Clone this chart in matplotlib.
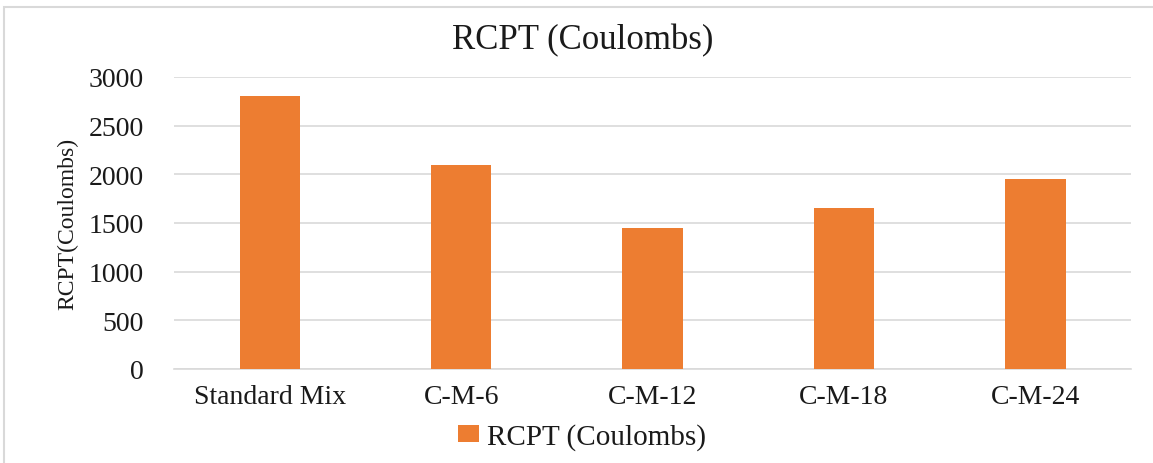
import matplotlib.pyplot as plt
from matplotlib.patches import Rectangle

# RCPT results per mix
mixes = ['Standard Mix', 'C-M-6', 'C-M-12', 'C-M-18', 'C-M-24']
rcpt = [2800, 2100, 1450, 1650, 1950]
y_ticks = [0, 500, 1000, 1500, 2000, 2500, 3000]

plt.rcParams['font.family'] = ['Liberation Serif', 'DejaVu Serif']

fig = plt.figure(figsize=(11.53, 4.64), dpi=100)
ax = fig.add_axes([0.151, 0.203, 0.830, 0.629])

# light chart border (Excel chart area)
fig.patches.append(Rectangle((4 / 1153, -0.1), 1.2, 1 - 8 / 464 + 0.1,
                             transform=fig.transFigure, fill=False,
                             edgecolor='#D9D9D9', linewidth=1.5))

bars = ax.bar(range(len(mixes)), rcpt, width=0.315, color='#ED7D31',
              label='RCPT (Coulombs)', zorder=3)

ax.set_xlim(-0.5, len(mixes) - 0.5)
ax.set_ylim(0, 3000)
ax.set_yticks(y_ticks)
ax.set_xticks(range(len(mixes)))
ax.set_xticklabels(mixes)
ax.tick_params(axis='both', length=0, labelsize=20, colors='#1a1a1a')
ax.tick_params(axis='y', pad=22)
ax.tick_params(axis='x', pad=11)

ax.grid(axis='y', color='#D9D9D9', linewidth=1.2, zorder=0)
for side in ['top', 'right', 'left']:
    ax.spines[side].set_visible(False)
ax.spines['bottom'].set_color('#D9D9D9')
ax.spines['bottom'].set_linewidth(1.2)

ax.set_ylabel('RCPT(Coulombs)', fontsize=17, color='#1a1a1a')
ax.yaxis.set_label_coords(-0.1, 0.5)

fig.text(0.505, 0.912, 'RCPT (Coulombs)', ha='center', va='center',
         fontsize=25, color='#1a1a1a')

fig.legend(handles=[bars], labels=['RCPT (Coulombs)'], loc='center',
           bbox_to_anchor=(0.505, 0.056), frameon=False, fontsize=21,
           handlelength=0.7, handleheight=0.5, handletextpad=0.3,
           labelcolor='#1a1a1a')

fig.savefig('out.png', dpi=100)
